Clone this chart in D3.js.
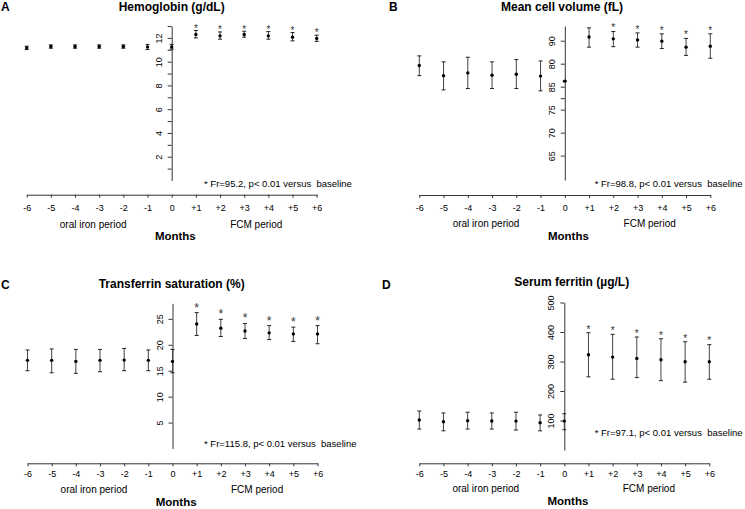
<!DOCTYPE html>
<html><head><meta charset="utf-8">
<script src="https://cdn.jsdelivr.net/npm/d3@7"></script>
<style>
body{margin:0;background:#fff}
svg{display:block}
text{font-family:"Liberation Sans",Arial,Helvetica,sans-serif}
</style>
</head><body>
<svg id="c" width="745" height="509"></svg>
<script>
// ---------- data ----------
const months = [-6,-5,-4,-3,-2,-1,0,1,2,3,4,5,6];
const xTickLabels = ["-6","-5","-4","-3","-2","-1","0","+1","+2","+3","+4","+5","+6"];
const periodLabels = ["oral iron period","FCM period"];
const xAxisTitle = "Months";
const panelLetters = ["A","B","C","D"];
const panelTitles = ["Hemoglobin (g/dL)","Mean cell volume (fL)","Transferrin saturation (%)","Serum ferritin (\u00b5g/L)"];
const panelNotes = ["* Fr=95.2, p< 0.01 versus  baseline","* Fr=98.8, p< 0.01 versus  baseline","* Fr=115.8, p< 0.01 versus  baseline","* Fr=97.1, p< 0.01 versus  baseline"];

const hbMean  = [11.16,11.28,11.28,11.28,11.28,11.24,11.24,12.28,12.17,12.28,12.17,12.06,11.95];
const hbLower = [11.02,11.13,11.13,11.13,11.13,11.02,11.05,12.00,11.89,12.06,11.89,11.75,11.70];
const hbUpper = [11.30,11.41,11.41,11.41,11.41,11.45,11.45,12.62,12.50,12.56,12.53,12.45,12.23];
const hbStar  = [0,0,0,0,0,0,0,1,1,1,1,1,1];
const hbTicks = [1,2,3,4,5,6,7,8,9,10,11,12,13];
const hbTickLabels = ["","2","","4","","6","","8","","10","","12",""];

const mcvMean  = [84.6,82.4,83.0,82.5,82.7,82.3,81.2,90.8,90.4,90.15,89.9,88.6,88.8];
const mcvLower = [82.4,79.3,79.6,79.6,79.6,79.1,81.2,88.6,88.7,88.6,88.3,86.8,86.2];
const mcvUpper = [86.7,85.4,86.4,85.4,85.9,85.6,81.2,92.8,92.0,91.7,91.5,90.5,91.5];
const mcvStar  = [0,0,0,0,0,0,0,0,1,1,1,1,1];
const mcvTicks = [90,85,80,77.5,75,70,65];
const mcvTickLabels = ["90","80","85","","75","70","65"];

const tsatMean  = [17.0,17.0,16.8,17.0,17.05,17.0,16.8,24.0,23.2,22.65,22.3,22.1,22.1];
const tsatLower = [15.0,14.6,14.5,14.8,15.0,15.0,14.6,21.8,21.6,21.2,21.0,20.65,20.2];
const tsatUpper = [19.0,19.2,19.1,19.1,19.3,19.0,19.1,26.2,24.9,24.1,23.7,23.4,23.7];
const tsatStar  = [0,0,0,0,0,0,0,1,1,1,1,1,1];
const tsatTicks = [5,10,15,20,25];
const tsatTickLabels = ["5","10","15","20","25"];

const ferMean  = [101.7,96,99,98.3,98,92.5,98,322.8,315,310,305.8,299,299];
const ferLower = [71,65,71,71,67.7,65,68.7,248,240,245.6,235,230,240];
const ferUpper = [132,125.5,128,125.5,128,118.7,123,397.6,392,383,377,367,357];
const ferStar  = [0,0,0,0,0,0,0,1,1,1,1,1,1];
const ferTicks = [100,200,300,400,500];
const ferTickLabels = ["100","200","300","400","500"];

// ---------- layout (styles / positions) ----------
const panels = [
  {mean:hbMean, lo:hbLower, hi:hbUpper, star:hbStar, ticks:hbTicks, tickLabels:hbTickLabels,
   dom:[0,13], xr:[26.7,316.7], yr:[180.5,26], axisY:194.7, titleX:171.7, titleY:10.5, letterX:1, letterY:10.5,
   tickLabY:207.7, periodY:224, monthsY:236, noteX:204, noteY:183, starOff:4.5, starFs:10},
  {mean:mcvMean, lo:mcvLower, hi:mcvUpper, star:mcvStar, ticks:mcvTicks, tickLabels:mcvTickLabels,
   dom:[59.7,93.2], xr:[419.3,710.3], yr:[180,26], axisY:195, titleX:562, titleY:11, letterX:389, letterY:11,
   tickLabY:207.7, periodY:223.5, monthsY:236, noteX:594.7, noteY:183, starOff:6, starFs:10},
  {mean:tsatMean, lo:tsatLower, hi:tsatUpper, star:tsatStar, ticks:tsatTicks, tickLabels:tsatTickLabels,
   dom:[0,28], xr:[27.5,317.5], yr:[448.5,303.3], axisY:463.3, titleX:171.7, titleY:288, letterX:1, letterY:289,
   tickLabY:474.3, periodY:489, monthsY:501.5, noteX:204, noteY:443, starOff:8, starFs:12},
  {mean:ferMean, lo:ferLower, hi:ferUpper, star:ferStar, ticks:ferTicks, tickLabels:ferTickLabels,
   dom:[0,500], xr:[419.3,709.3], yr:[450,302.5], axisY:463.3, titleX:571.7, titleY:285.5, letterX:382, letterY:289,
   tickLabY:474.3, periodY:488, monthsY:500.5, noteX:594.7, noteY:432.5, starOff:6, starFs:10}
];

const svg = d3.select("#c");
const axisColor = "#333";
const barColor = "#444";

panels.forEach((p, pi) => {
  const g = svg.append("g");
  const x = d3.scaleLinear().domain([-6,6]).range(p.xr);
  const y = d3.scaleLinear().domain(p.dom).range(p.yr);

  // letter and title
  g.append("text").attr("x", p.letterX).attr("y", p.letterY)
    .attr("font-size", 12).attr("font-weight", "bold").text(panelLetters[pi]);
  g.append("text").attr("x", p.titleX).attr("y", p.titleY).attr("text-anchor","middle")
    .attr("font-size", 12).attr("font-weight", "bold").text(panelTitles[pi]);

  // x axis
  const xa = g.append("g").attr("transform", `translate(0,${p.axisY})`)
    .call(d3.axisBottom(x).tickValues(months).tickFormat((d,i)=>xTickLabels[i]).tickSize(3).tickSizeOuter(0));
  xa.select(".domain").attr("stroke", axisColor);
  xa.selectAll(".tick line").attr("stroke", axisColor);
  xa.selectAll(".tick text").attr("font-family", null).attr("font-size", 9).attr("fill","#000")
    .attr("y", p.tickLabY - p.axisY).attr("dy", null).attr("dominant-baseline","central");

  // period labels and axis title
  g.append("text").attr("x", x(-3.25)).attr("y", p.periodY).attr("text-anchor","middle")
    .attr("dominant-baseline","central").attr("font-size", 10).text(periodLabels[0]);
  g.append("text").attr("x", x(3.5)).attr("y", p.periodY).attr("text-anchor","middle")
    .attr("dominant-baseline","central").attr("font-size", 10).text(periodLabels[1]);
  g.append("text").attr("x", x(0.15)).attr("y", p.monthsY).attr("text-anchor","middle")
    .attr("dominant-baseline","central").attr("font-size", 11.5).attr("font-weight","bold").text(xAxisTitle);

  // y axis at month 0
  const ya = g.append("g").attr("transform", `translate(${x(0)},0)`)
    .call(d3.axisLeft(y).tickValues(p.ticks).tickFormat((d,i)=>p.tickLabels[i]).tickSize(4).tickSizeOuter(0));
  ya.select(".domain").attr("stroke", axisColor);
  ya.selectAll(".tick line").attr("stroke", axisColor);
  ya.selectAll(".tick text").attr("font-family", null).attr("font-size", 9).attr("fill","#000")
    .attr("x", 0).attr("dy", null).attr("text-anchor","middle").attr("dominant-baseline","central")
    .attr("transform","translate(-13,0) rotate(-90)");

  // note
  g.append("text").attr("x", p.noteX).attr("y", p.noteY).attr("dominant-baseline","central")
    .attr("font-size", 9.5).style("white-space","pre").text(panelNotes[pi]);

  // error bars
  const data = months.map((m,i)=>({m, v:p.mean[i], lo:p.lo[i], hi:p.hi[i], s:p.star[i]}));
  const eb = g.append("g").selectAll("g").data(data).join("g");
  eb.append("line").attr("x1", d=>x(d.m)).attr("x2", d=>x(d.m))
    .attr("y1", d=>y(d.lo)).attr("y2", d=>y(d.hi)).attr("stroke", barColor).attr("stroke-width", 1);
  eb.append("line").attr("x1", d=>x(d.m)-2).attr("x2", d=>x(d.m)+2)
    .attr("y1", d=>y(d.hi)).attr("y2", d=>y(d.hi)).attr("stroke", "#222").attr("stroke-width", 1);
  eb.append("line").attr("x1", d=>x(d.m)-2).attr("x2", d=>x(d.m)+2)
    .attr("y1", d=>y(d.lo)).attr("y2", d=>y(d.lo)).attr("stroke", "#222").attr("stroke-width", 1);
  eb.append("circle").attr("cx", d=>x(d.m)).attr("cy", d=>y(d.v)).attr("r", 1.7).attr("fill","#000");
  eb.filter(d=>d.s).append("text").attr("x", d=>x(d.m)).attr("y", d=>y(d.hi) - p.starOff + 0.58*p.starFs)
    .attr("text-anchor","middle").attr("font-size", p.starFs).attr("fill","#333").text("*");
});
</script>
</body></html>
